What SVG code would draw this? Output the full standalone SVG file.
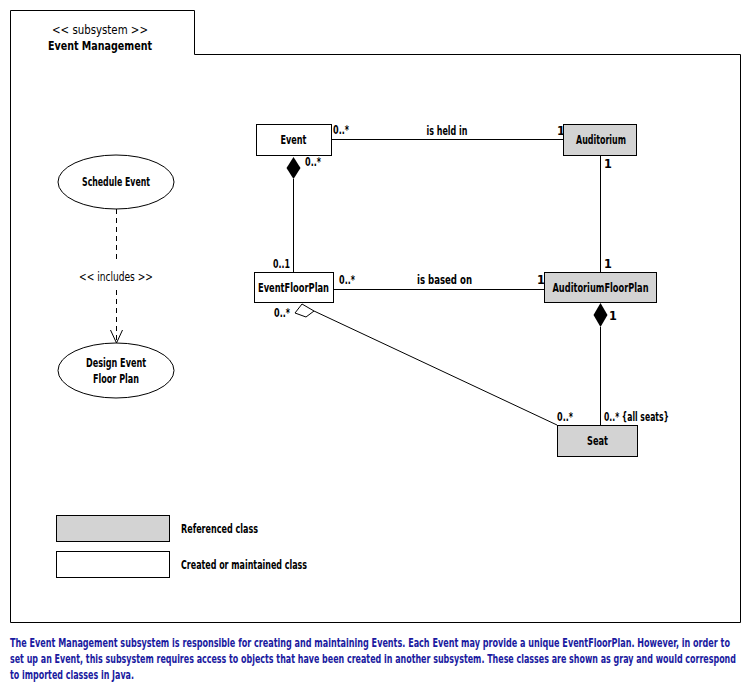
<svg xmlns="http://www.w3.org/2000/svg" width="750" height="695" viewBox="0 0 750 695">
<style>
text{font-family:"DejaVu Sans Condensed","Liberation Sans",sans-serif;font-size:12.5px;font-weight:bold;fill:#000}
.c{text-anchor:middle}
.box{fill:#fff;stroke:#000;stroke-width:1}
.gray{fill:#d3d3d3;stroke:#000;stroke-width:1}
.ln{stroke:#000;stroke-width:1;fill:none}
.cap{fill:#1a1aa0;font-size:12px}
.n{font-weight:normal}
</style>
<rect width="750" height="695" fill="#fff"/>
<g id="frame">
<path d="M10.5,622.5 V10.5 H194.5 V54.5 H740.5 V622.5 Z" class="ln"/>
<text x="100" y="34" class="c n" textLength="96" lengthAdjust="spacingAndGlyphs">&lt;&lt; subsystem &gt;&gt;</text>
<text x="100" y="50" class="c" textLength="104" lengthAdjust="spacingAndGlyphs">Event Management</text>
</g>
<g id="connectors">
<line x1="331" y1="139.5" x2="563" y2="139.5" class="ln"/>
<line x1="293.5" y1="179" x2="293.5" y2="272" class="ln"/>
<polygon points="293.5,157 300.5,168 293.5,179 286.5,168" fill="#000"/>
<line x1="600.5" y1="155" x2="600.5" y2="272" class="ln"/>
<line x1="333" y1="289.5" x2="544" y2="289.5" class="ln"/>
<line x1="600.5" y1="327" x2="600.5" y2="425" class="ln"/>
<polygon points="600.5,303 607.5,315 600.5,327 593.5,315" fill="#000"/>
<line x1="314" y1="311" x2="557" y2="425" class="ln"/>
<polygon points="302,304 314,311 306,317 295,313" fill="#fff" stroke="#000"/>
<path d="M116.5,209 V262 M116.5,290 V343" class="ln" stroke-dasharray="5,4"/>
<path d="M110.5,330 L116.5,343 L122.5,330" class="ln"/>
<text x="116" y="281" class="c n" textLength="74" lengthAdjust="spacingAndGlyphs">&lt;&lt; includes &gt;&gt;</text>
<text x="333" y="134" textLength="16" lengthAdjust="spacingAndGlyphs">0..*</text>
<text x="447" y="135" class="c" textLength="41" lengthAdjust="spacingAndGlyphs">is held in</text>
<text x="557" y="135">1</text>
<text x="305" y="166" textLength="16" lengthAdjust="spacingAndGlyphs">0..*</text>
<text x="604" y="168">1</text>
<text x="273" y="268" textLength="17" lengthAdjust="spacingAndGlyphs">0..1</text>
<text x="604" y="268">1</text>
<text x="339" y="284" textLength="16" lengthAdjust="spacingAndGlyphs">0..*</text>
<text x="444.5" y="284" class="c" textLength="55" lengthAdjust="spacingAndGlyphs">is based on</text>
<text x="537" y="284">1</text>
<text x="274" y="317" textLength="16" lengthAdjust="spacingAndGlyphs">0..*</text>
<text x="609" y="320">1</text>
<text x="557" y="421" textLength="16" lengthAdjust="spacingAndGlyphs">0..*</text>
<text x="604" y="421" textLength="65" lengthAdjust="spacingAndGlyphs">0..*  {all seats}</text>
</g>
<g id="Event">
<rect x="256.5" y="124.5" width="75" height="31" class="box"/>
<text x="293.5" y="144" class="c" textLength="26" lengthAdjust="spacingAndGlyphs">Event</text>
</g>
<g id="Auditorium">
<rect x="563.5" y="124.5" width="73" height="31" class="gray"/>
<text x="601" y="144" class="c" textLength="50" lengthAdjust="spacingAndGlyphs">Auditorium</text>
</g>
<g id="EventFloorPlan">
<rect x="254.5" y="272.5" width="79" height="30" class="box"/>
<text transform="translate(293.5,292) scale(0.75,1)" x="0" y="0" class="c" textLength="94.7" lengthAdjust="spacingAndGlyphs">EventFloorPlan</text>
</g>
<g id="AuditoriumFloorPlan">
<rect x="544.5" y="272.5" width="112" height="30" class="gray"/>
<text x="600.5" y="292" class="c" textLength="96" lengthAdjust="spacingAndGlyphs">AuditoriumFloorPlan</text>
</g>
<g id="Seat">
<rect x="557.5" y="425.5" width="80" height="31" class="gray"/>
<text x="597.5" y="445" class="c" textLength="21" lengthAdjust="spacingAndGlyphs">Seat</text>
</g>
<g id="ScheduleEvent">
<ellipse cx="116" cy="182" rx="58" ry="27" class="box"/>
<text x="116" y="186" class="c" textLength="68" lengthAdjust="spacingAndGlyphs">Schedule Event</text>
</g>
<g id="DesignEventFloorPlan">
<ellipse cx="116" cy="370.5" rx="58" ry="27.5" class="box"/>
<text x="116" y="367" class="c" textLength="60" lengthAdjust="spacingAndGlyphs">Design Event</text>
<text x="116" y="383" class="c" textLength="46" lengthAdjust="spacingAndGlyphs">Floor Plan</text>
</g>
<g id="legend">
<rect x="56.5" y="515.5" width="113" height="26" class="gray"/>
<rect x="56.5" y="551.5" width="113" height="26" class="box"/>
<text x="181" y="533" textLength="77" lengthAdjust="spacingAndGlyphs">Referenced class</text>
<text x="181" y="569" textLength="126" lengthAdjust="spacingAndGlyphs">Created or maintained class</text>
</g>
<g id="caption">
<text transform="translate(10,647) scale(0.7,1)" x="0" y="0" class="cap" textLength="1028.6" lengthAdjust="spacingAndGlyphs">The Event Management subsystem is responsible for creating and maintaining Events.  Each Event may provide a unique EventFloorPlan.  However, in order to</text>
<text transform="translate(10,663) scale(0.7,1)" x="0" y="0" class="cap" textLength="1037.1" lengthAdjust="spacingAndGlyphs">set up an Event, this subsystem requires access to objects that have been created in another subsystem.  These classes are shown as gray and would correspond</text>
<text transform="translate(10,679) scale(0.7,1)" x="0" y="0" class="cap" textLength="177.1" lengthAdjust="spacingAndGlyphs">to imported classes in Java.</text>
</g>
</svg>
